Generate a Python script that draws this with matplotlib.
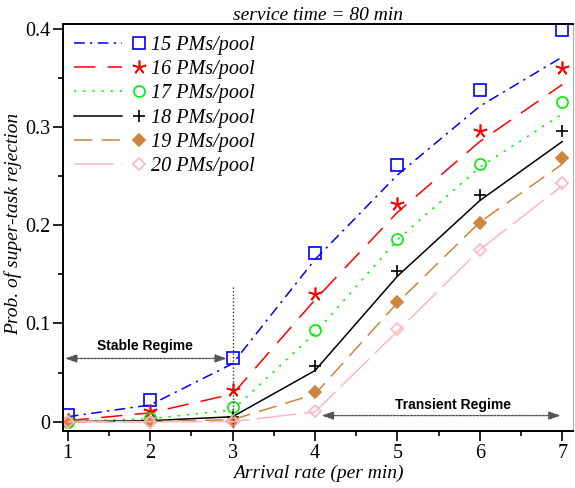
import matplotlib
matplotlib.use("Agg")
import matplotlib.pyplot as plt
from matplotlib.lines import Line2D
from matplotlib.legend_handler import HandlerBase
from matplotlib.ticker import MultipleLocator, FuncFormatter

# ---- data ----
arrival_rate = [1, 2, 3, 4, 5, 6, 7]
labels = ["15 PMs/pool", "16 PMs/pool", "17 PMs/pool",
          "18 PMs/pool", "19 PMs/pool", "20 PMs/pool"]

# simulation points (markers)
sim_15 = [0.007, 0.022, 0.065, 0.172, 0.261, 0.337, 0.398]
sim_16 = [0.002, 0.011, 0.032, 0.130, 0.221, 0.296, 0.360]
sim_17 = [0.000, 0.004, 0.015, 0.093, 0.186, 0.262, 0.325]
sim_18 = [0.000, 0.000, 0.005, 0.057, 0.153, 0.231, 0.296]
sim_19 = [0.000, 0.000, 0.001, 0.030, 0.122, 0.202, 0.268]
sim_20 = [0.000, 0.000, 0.000, 0.011, 0.094, 0.175, 0.243]

# analytical curves (lines)
ana_15 = [0.005, 0.017, 0.059, 0.165, 0.251, 0.321, 0.371]
ana_16 = [0.001, 0.009, 0.028, 0.124, 0.213, 0.285, 0.343]
ana_17 = [0.000, 0.003, 0.012, 0.090, 0.185, 0.259, 0.313]
ana_18 = [0.000, 0.001, 0.005, 0.052, 0.148, 0.225, 0.285]
ana_19 = [0.000, 0.000, 0.002, 0.028, 0.121, 0.203, 0.262]
ana_20 = [0.000, 0.000, 0.000, 0.010, 0.092, 0.175, 0.240]

sims = [sim_15, sim_16, sim_17, sim_18, sim_19, sim_20]
anas = [ana_15, ana_16, ana_17, ana_18, ana_19, ana_20]

colors = ["#0000ff", "#ff0000", "#00ee00", "#000000", "#cd853f", "#ffb6c1"]
dashes = [(7, 3.5, 1.5, 3.5), (14, 8), (1.5, 4.5), None, (12, 6), (26, 5)]
markers = ["s", (5, 2), "o", "+", "D", "D"]
msizes = [8, 10, 8, 9, 6.5, 6.5]
filled = [False, True, False, True, True, False]

serif = "Liberation Serif"


class LineThenMarker(HandlerBase):
    def create_artists(self, legend, orig_handle, xdescent, ydescent,
                       width, height, fontsize, trans):
        ln, mk = orig_handle
        y = height / 2.0 - ydescent
        x0 = -xdescent
        l = Line2D([x0, x0 + width * 0.68], [y, y])
        l.update_from(ln)
        l.set_transform(trans)
        m = Line2D([x0 + width * 0.92], [y])
        m.update_from(mk)
        m.set_transform(trans)
        return [l, m]


fig = plt.figure(figsize=(5.75, 4.88), dpi=100)
ax = fig.add_axes([0.1096, 0.1158, 0.8869, 0.834])

handles = []
for i in range(6):
    ln, = ax.plot(arrival_rate, anas[i], color=colors[i], lw=1.1)
    if dashes[i] is not None:
        ln.set_dashes(dashes[i])
    mk_kwargs = dict(color=colors[i], linestyle="none", marker=markers[i],
                     markersize=msizes[i], markeredgewidth=1.2)
    mk_kwargs["markerfacecolor"] = colors[i] if filled[i] else "none"
    mk, = ax.plot(arrival_rate, sims[i], **mk_kwargs)
    handles.append((ln, mk))

leg = ax.legend(handles, labels, handler_map={tuple: LineThenMarker()},
                loc="upper left", frameon=False, handlelength=3.5,
                handletextpad=0.3, labelspacing=0.26, borderaxespad=0.15,
                borderpad=0.4,
                prop=dict(family=serif, style="italic", size=14.5))

ax.set_xlim(0.943, 7.13)
ax.set_ylim(-0.01, 0.4041)
ax.xaxis.set_major_locator(MultipleLocator(1))
ax.xaxis.set_minor_locator(MultipleLocator(0.5))
ax.yaxis.set_major_locator(MultipleLocator(0.1))
ax.yaxis.set_minor_locator(MultipleLocator(0.05))
ax.yaxis.set_major_formatter(FuncFormatter(lambda v, p: "%g" % round(v, 3)))
ax.tick_params(which="major", direction="out", length=7, width=1.2,
               labelsize=14.5, pad=2)
ax.tick_params(which="minor", direction="out", length=3.5, width=1.2)
for lab in ax.get_xticklabels() + ax.get_yticklabels():
    lab.set_fontfamily(serif)

for s in ["left", "bottom", "top"]:
    ax.spines[s].set_linewidth(1.4)
    ax.spines[s].set_color("black")
ax.spines["right"].set_linewidth(0.8)
ax.spines["right"].set_color("#b0b0b0")

ax.set_xlabel("Arrival rate (per min)", family=serif, style="italic",
              fontsize=14, labelpad=1)
ax.set_ylabel("Prob. of super-task rejection", family=serif, style="italic",
              fontsize=14)
ax.yaxis.set_label_coords(-0.081, 0.511)
ax.set_title("service time = 80 min", family=serif, style="italic",
             fontsize=14, pad=3)

# annotations
ax.plot([3, 3], [0.137, -0.01], color="#333333", lw=1.0, linestyle=(0, (1, 1.5)))
arrow = dict(arrowstyle="<|-|>,head_length=0.7,head_width=0.25",
             color="#555555", lw=1.0, linestyle=(0, (1.5, 1)),
             shrinkA=0, shrinkB=0)
ax.annotate("", xy=(0.967, 0.0643), xytext=(2.93, 0.0643), arrowprops=arrow)
ax.text(1.94, 0.0765, "Stable Regime", ha="center", va="center",
        family="Liberation Sans", weight="bold", fontsize=10)
ax.annotate("", xy=(4.08, 0.0062), xytext=(6.98, 0.0062), arrowprops=arrow)
ax.text(5.67, 0.0172, "Transient Regime", ha="center", va="center",
        family="Liberation Sans", weight="bold", fontsize=10)

fig.savefig("out.png", dpi=100)
